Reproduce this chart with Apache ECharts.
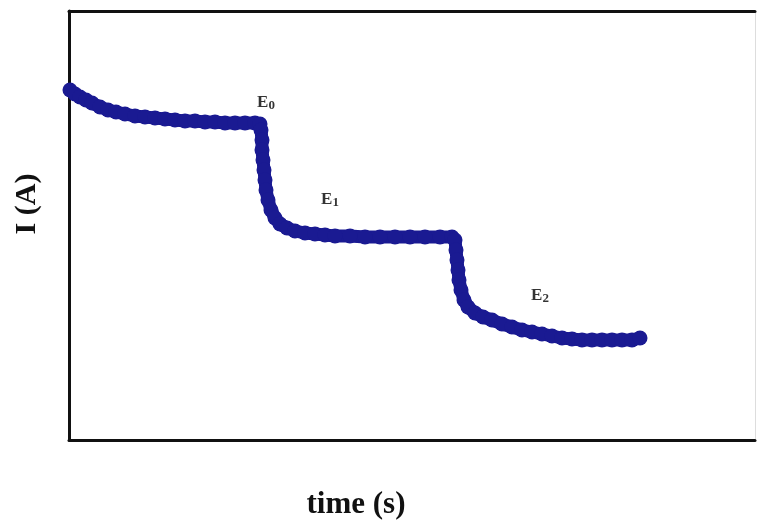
<!DOCTYPE html>
<html>
  <head>
    <meta charset="UTF-8" />
    <title>I vs time</title>
    <style>
      html, body { margin: 0; padding: 0; background: #fff; }
      #chart { width: 758px; height: 523px; }
    </style>
    <script src="https://cdn.jsdelivr.net/npm/echarts@6/dist/echarts.min.js"></script>
  </head>
  <body>
    <div id="chart"></div>
    <script>
      // time (s) and current I (A) (arbitrary units)
      var times = [
        0.2, 1.2, 2.2, 3.4, 4.6, 6.2, 7.8, 9.4, 11.2, 13.2, 15.2, 17.2, 19.2, 21.2, 23.2, 25.2,
        27.2, 29.2, 31.2, 33.2, 35.2, 37.2, 38.2,
        38.4, 38.6, 38.6, 38.8, 39.0, 39.2, 39.4, 39.8, 40.4, 41.2, 42.2, 43.6, 45.2, 47.2,
        49.2, 51.2, 53.2, 56.2, 59.2, 62.2, 65.2, 68.2, 71.2, 74.2, 76.6, 77.2,
        77.4, 77.6, 77.8, 78.0, 78.4, 79.0, 79.8, 81.2, 82.8, 84.6, 86.6, 88.6, 90.6, 92.6,
        94.6, 96.6, 98.6, 100.6, 102.6, 104.6, 106.6, 108.6, 110.6, 112.6, 114.2
      ];
      var current = [
        7.0, 6.92, 6.86, 6.8, 6.74, 6.66, 6.6, 6.56, 6.52, 6.48, 6.46, 6.44, 6.42, 6.4, 6.38, 6.38,
        6.36, 6.36, 6.34, 6.34, 6.34, 6.34, 6.32,
        6.2, 6.0, 5.8, 5.6, 5.4, 5.2, 5.0, 4.8, 4.6, 4.44, 4.32, 4.24, 4.18, 4.14,
        4.12, 4.1, 4.08, 4.08, 4.06, 4.06, 4.06, 4.06, 4.06, 4.06, 4.06, 4.0,
        3.8, 3.6, 3.4, 3.2, 3.0, 2.8, 2.66, 2.54, 2.46, 2.4, 2.32, 2.26, 2.2, 2.16,
        2.12, 2.08, 2.04, 2.02, 2.0, 2.0, 2.0, 2.0, 2.0, 2.0, 2.04
      ];

      // potential step labels and where they sit
      var stepNames = ["0", "1", "2"];
      var stepTimes = [39.4, 52.2, 94.2];
      var stepCurrent = [6.74, 4.8, 2.88];

      var serif = "Liberation Serif";
      var blue = "#1a1a92";
      var frame = { show: true, onZero: false, lineStyle: { color: "#111", width: 3 } };

      var curve = times.map(function (t, i) { return [t, current[i]]; });
      var steps = stepNames.map(function (n, i) { return { value: [stepTimes[i], stepCurrent[i]], sub: n }; });

      var chart = echarts.init(document.getElementById("chart"));

      function bareAxis(extra) {
        var a = {
          type: "value",
          axisLine: frame,
          axisTick: { show: false },
          axisLabel: { show: false },
          splitLine: { show: false }
        };
        for (var k in extra) a[k] = extra[k];
        return a;
      }

      var option = {
        animation: false,
        grid: { left: 69, right: 3, top: 11, bottom: 83 },
        xAxis: [
          bareAxis({ min: 0, max: 137.2 }),
          bareAxis({ min: 0, max: 137.2, position: "top" })
        ],
        yAxis: [
          bareAxis({ min: 0, max: 8.58 }),
          bareAxis({
            min: 0, max: 8.58, position: "right",
            axisLine: { show: true, onZero: false, lineStyle: { color: "#ddd", width: 1 } }
          })
        ],
        graphic: [
          {
            type: "text", x: 356, y: 505,
            style: {
              text: "time (s)", fontFamily: serif, fontWeight: "bold", fontSize: 31, fill: "#111",
              align: "center", verticalAlign: "middle"
            }
          },
          {
            type: "text", x: 27, y: 204, rotation: Math.PI / 2,
            style: {
              text: "I (A)", fontFamily: serif, fontWeight: "bold", fontSize: 30, fill: "#111",
              align: "center", verticalAlign: "middle"
            }
          }
        ],
        series: [
          {
            type: "line",
            data: curve,
            symbol: "circle",
            symbolSize: 15,
            showAllSymbol: true,
            itemStyle: { color: blue },
            lineStyle: { color: blue, width: 13 },
            z: 2
          },
          {
            type: "scatter",
            data: steps,
            symbolSize: 0,
            silent: true,
            label: {
              show: true,
              position: "inside",
              formatter: function (p) { return "{b|E}{s|" + p.data.sub + "}"; },
              rich: {
                b: { fontFamily: serif, fontWeight: "bold", fontSize: 17, color: "#000", lineHeight: 18 },
                s: { fontFamily: serif, fontWeight: "bold", fontSize: 13, color: "#000", lineHeight: 18, verticalAlign: "bottom", padding: [5, 0, 0, 0] }
              }
            },
            z: 3
          }
        ]
      };

      chart.setOption(option);
    </script>
  </body>
</html>
